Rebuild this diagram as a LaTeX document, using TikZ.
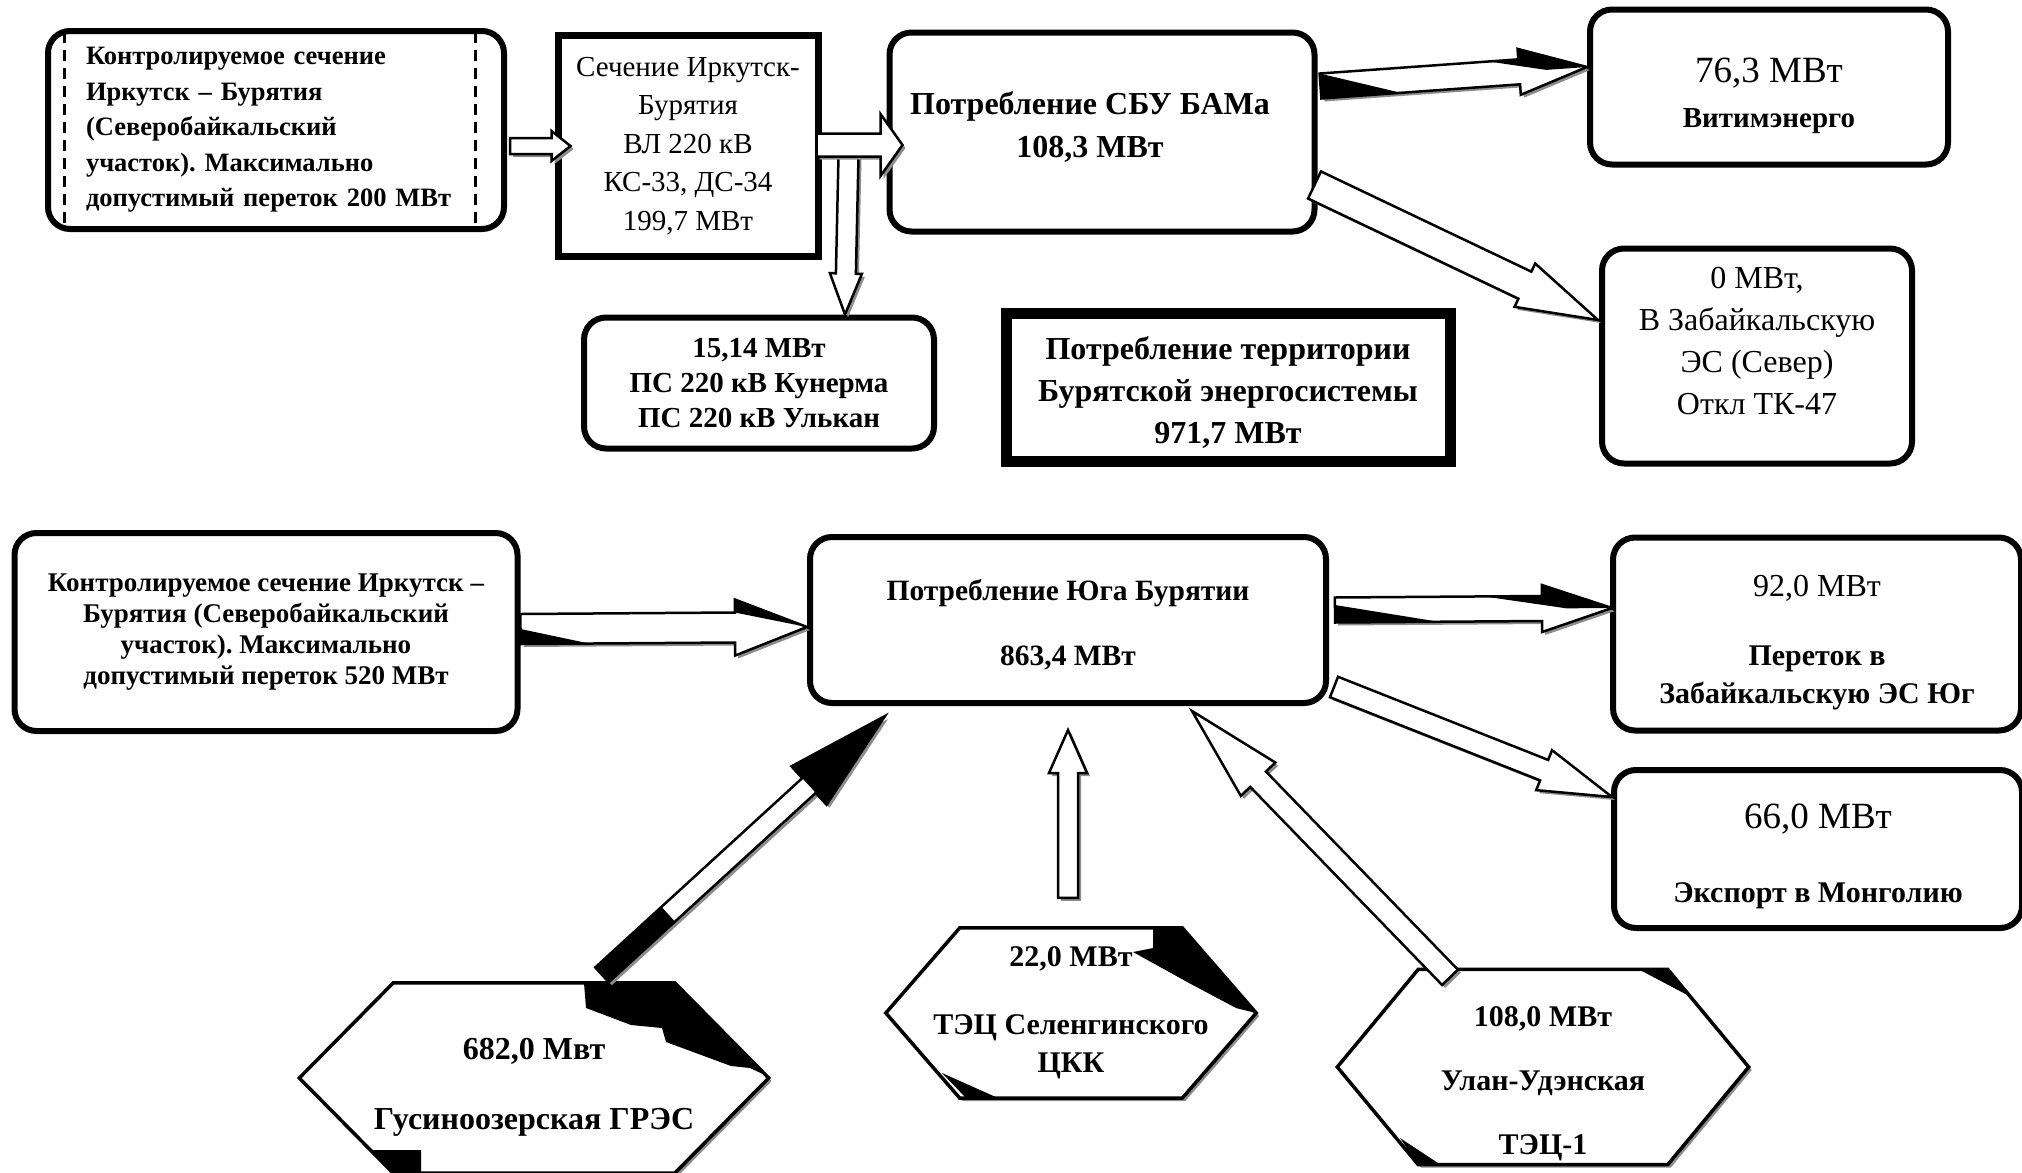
\documentclass[tikz,border=0pt]{standalone}
\usepackage{fontspec}
\setmainfont{Liberation Serif}
\usetikzlibrary{calc,shadows,backgrounds}
\frenchspacing

\newcommand\fnt[2]{\fontsize{#1}{#2}\selectfont}

\tikzset{
  box/.style={draw,line width=6pt,rounded corners=22pt,fill=white,
    align=center,inner sep=0pt},
  sqbox/.style={draw,line width=7pt,fill=white,align=center,inner sep=0pt},
  framebox/.style={draw,line width=8pt,fill=white,align=center,inner sep=0pt},
  frameinner/.style={draw,line width=3pt},
  dashline/.style={draw,line width=3pt,dash pattern=on 11pt off 7pt},
  hexnode/.style={align=center,inner sep=0pt},
  txt/.style={align=center,inner sep=0pt},
  hexline/.style={draw,line width=3.5pt,fill=white,line join=miter,
    drop shadow={shadow xshift=3pt,shadow yshift=-3pt,fill=black!45,opacity=1}},
  flow/.style={draw,line width=2.5pt,fill=white,line join=miter,
    drop shadow={shadow xshift=3pt,shadow yshift=-3pt,fill=black!45,opacity=1}},
  blot/.style={fill=black},
}

% block arrow: tail, tip, half shaft, half head, head length
\newcommand\flowarrow[6][]{%
  \coordinate (fa-b) at ($(#3)!#6pt!(#2)$);
  \coordinate (fa-t1) at ($(#2)!#4pt!90:(#3)$);
  \coordinate (fa-t2) at ($(#2)!#4pt!-90:(#3)$);
  \coordinate (fa-s1) at ($(fa-b)!#4pt!90:(#3)$);
  \coordinate (fa-s2) at ($(fa-b)!#4pt!-90:(#3)$);
  \coordinate (fa-h1) at ($(fa-b)!#5pt!90:(#3)$);
  \coordinate (fa-h2) at ($(fa-b)!#5pt!-90:(#3)$);
  \path[flow,#1] (fa-t1) -- (fa-s1) -- (fa-h1) -- (#3) -- (fa-h2) -- (fa-s2)
    -- (fa-t2) -- cycle;
}

% hexagon round a node: node name, horizontal cut
\newcommand\hexframe[2]{%
  \path[hexline] (#1.west) -- ($(#1.north west)+(#2,0)$)
    -- ($(#1.north east)+(-#2,0)$) -- (#1.east)
    -- ($(#1.south east)+(-#2,0)$) -- ($(#1.south west)+(#2,0)$) -- cycle;
}

\begin{document}
\begin{tikzpicture}[x=1pt,y=-1pt]
  \useasboundingbox (0,0) rectangle (2022,1173);

  % upper part: north (BAM)
  \node[box,minimum width=456pt,minimum height=198pt,text width=380pt,
    inner xsep=38pt,align=left,font={\fnt{26.5}{35.5}\bfseries}]
    (ctlnorth) at (276,130) {Контролируемое сечение\\ Иркутск – Бурятия\\
    (Северобайкальский\\ участок). Максимально\\ допустимый переток 200 МВт};
  \draw[dashline] ($(ctlnorth.north west)+(19,4)$)
    rectangle ($(ctlnorth.south east)+(-32,-4)$);
  \node[sqbox,minimum width=260pt,minimum height=221pt,font={\fnt{29}{38.5}}]
    (secirk) at (688,146) {Сечение Иркутск-\\ Бурятия\\ ВЛ 220 кВ\\
    КС-33, ДС-34\\ 199,7 МВт};
  \node[box,minimum width=425pt,minimum height=199pt] (sbu) at (1102,132) {};
  \node[txt,font={\fnt{32}{43}\bfseries},xshift=-12pt,yshift=5pt]
    (sbu-txt) at (sbu) {Потребление СБУ БАМа\\ 108,3 МВт};
  \node[box,minimum width=358pt,minimum height=155pt] (vitim) at (1769,87) {};
  \node[txt,font={\fnt{29}{45}},yshift=-9pt]
    (vitim-txt) at (vitim) {{\fnt{37}{45}76,3 МВт}\\ \textbf{Витимэнерго}};
  \node[box,minimum width=310pt,minimum height=215pt] (zabnorth) at (1757,356) {};
  \node[txt,font={\fnt{32}{42}},yshift=15pt]
    (zabnorth-txt) at (zabnorth) {0 МВт,\\ В Забайкальскую\\ ЭС (Север)\\
    Откл ТК-47};
  \node[box,minimum width=350pt,minimum height=131pt,font={\fnt{29}{35}\bfseries}]
    (kunerma) at (759,383) {15,14 МВт\\ ПС 220 кВ Кунерма\\ ПС 220 кВ Улькан};
  \node[framebox,minimum width=447pt,minimum height=151pt] (total) at (1228,387) {};
  \draw[frameinner] ($(total.north west)+(9.5,9.5)$)
    rectangle ($(total.south east)+(-9.5,-9.5)$);
  \node[txt,font={\fnt{32}{42}\bfseries},yshift=-6pt]
    (total-txt) at (total) {Потребление территории\\ Бурятской энергосистемы\\
    971,7 МВт};

  % lower part: south
  \node[box,minimum width=503pt,minimum height=198pt,font={\fnt{27}{31}\bfseries}]
    (ctlsouth) at (266,632) {Контролируемое сечение Иркутск –\\
    Бурятия (Северобайкальский\\ участок). Максимально\\
    допустимый переток 520 МВт};
  \node[box,minimum width=516pt,minimum height=166pt] (south) at (1068,620) {};
  \node[txt,font={\fnt{29.5}{65}\bfseries},yshift=-5pt]
    (south-txt) at (south) {Потребление Юга Бурятии\\ 863,4 МВт};
  \node[box,minimum width=408pt,minimum height=193pt] (zabsouth) at (1817,634) {};
  \node[txt,font={\fnt{30}{38}\bfseries},yshift=-9pt]
    (zabsouth-txt) at (zabsouth) {{\fnt{32}{38}\mdseries 92,0 МВт}\\[31pt]
    Переток в\\ Забайкальскую ЭС Юг};
  \node[box,minimum width=408pt,minimum height=158pt] (mongol) at (1818,849) {};
  \node[txt,font={\fnt{30}{74}\bfseries},yshift=-7pt]
    (mongol-txt) at (mongol) {{\fnt{37}{74}\mdseries 66,0 МВт}\\
    Экспорт в Монголию};
  \node[hexnode,minimum width=469pt,minimum height=190pt] (gres) at (534,1078) {};
  \node[txt,font={\fnt{32}{70}\bfseries},yshift=-9pt]
    (gres-txt) at (gres) {682,0 Мвт\\ Гусиноозерская ГРЭС};
  \node[hexnode,minimum width=370pt,minimum height=170pt,
    font={\fnt{30}{38}\bfseries}]
    (tsck) at (1071,1013) {22,0 МВт\\[30pt] ТЭЦ Селенгинского\\ ЦКК};
  \node[hexnode,minimum width=411pt,minimum height=195pt] (tec1) at (1543,1067) {};
  \node[txt,font={\fnt{30}{64}\bfseries},yshift=-17pt]
    (tec1-txt) at (tec1) {108,0 МВт\\ Улан-Удэнская\\ ТЭЦ-1};

  \begin{scope}[on background layer]
    \hexframe{gres}{94}
    \hexframe{tsck}{74}
    \hexframe{tec1}{81}
    \begin{scope}[shift={(gres.center)}]
      \fill[blot] (50,-95) -- (140,-95) -- (233,-2) -- (216,-10) -- (197,-12)
        -- (132,-36) -- (128,-50) -- (97,-53) -- (52,-70) -- cycle;
      \fill[blot] (-163,72) -- (-113,72) -- (-113,95) -- (-140,95) -- cycle;
    \end{scope}
    \begin{scope}[shift={(tsck.center)}]
      \fill[blot] (82,-85) -- (112,-85) -- (185,0) -- (165,-5) -- (118,-30)
        -- (62,-61) -- (82,-65) -- cycle;
      \fill[blot] (-129,60) -- (-105,85) -- (-73,85) -- cycle;
    \end{scope}
    \begin{scope}[shift={(tec1.center)}]
      \fill[blot] (97,-97) -- (124,-97) -- (150,-69) -- cycle;
      \fill[blot] (-143,71) -- (-125,98) -- (-102,98) -- cycle;
    \end{scope}
  \end{scope}

  % flows, upper part
  \coordinate (a1) at ($(ctlnorth.east)+(3,16)$);
  \coordinate (a2) at ($(secirk.west)+(16,0)$);
  \flowarrow{a1}{a2}{8}{15}{19}
  \coordinate (c1) at ($(secirk.east)+(27,10)$);
  \coordinate (c2) at ($(kunerma.north)+(86,0)$);
  \flowarrow{c1}{c2}{10}{16}{41}
  \coordinate (b1) at ($(secirk.east)+(-5,-1)$);
  \coordinate (b2) at ($(sbu.west)+(16,13)$);
  \flowarrow{b1}{b2}{11.5}{31}{22}
  \coordinate (d1) at ($(sbu.east)+(3,-46)$);
  \coordinate (d2) at ($(vitim.west)+(0,-20)$);
  \flowarrow{d1}{d2}{12.5}{23}{68}
  \fill[blot] (fa-t1) -- ($(fa-t2)!0.4!(fa-s2)$) -- (fa-t2) -- cycle;
  \fill[blot] (fa-h1) -- (d2) -- ($(fa-b)!0.4!(d2)$) -- ($(fa-s1)!0.15!(fa-t1)$)
    -- (fa-s1) -- cycle;
  \coordinate (e1) at ($(sbu.east)+(-3,53)$);
  \coordinate (e2) at ($(zabnorth.west)+(-1,-36)$);
  \flowarrow{e1}{e2}{15}{24}{81}

  % flows, lower part
  \coordinate (f1) at ($(ctlsouth.east)+(0,-3)$);
  \coordinate (f2) at ($(south.west)+(0,7)$);
  \flowarrow{f1}{f2}{15}{28}{72}
  \fill[blot] (fa-h1) -- (f2) -- (fa-s1) -- cycle;
  \fill[blot] ($(fa-t1)!0.5!(fa-t2)$) -- ($(fa-t2)!0.32!(fa-s2)$) -- (fa-t2) -- cycle;
  \coordinate (g1) at ($(south.east)+(6,-10)$);
  \coordinate (g2) at ($(zabsouth.west)+(2,-26)$);
  \flowarrow{g1}{g2}{12.5}{23.5}{70}
  \fill[blot] (fa-h1) -- (g2) -- ($(fa-b)!0.35!(g2)$) -- ($(fa-s1)!0.28!(fa-t1)$)
    -- (fa-s1) -- cycle;
  \fill[blot] ($(fa-t1)!0.3!(fa-t2)$) -- ($(fa-t2)!0.5!(fa-s2)$) -- (fa-t2) -- cycle;
  \coordinate (h1) at ($(south.east)+(5,67)$);
  \coordinate (h2) at ($(mongol.west)+(1,-52)$);
  \flowarrow{h1}{h2}{11}{21.5}{73}
  \coordinate (i1) at ($(gres.north)+(68,-8)$);
  \coordinate (i2) at ($(south.south west)+(78,10)$);
  \flowarrow{i1}{i2}{10}{26}{103}
  \fill[blot] (fa-h1) -- (i2) -- (fa-h2) -- cycle;
  \fill[blot] (fa-t1) -- ($(fa-t1)!0.32!(fa-s1)$) -- ($(fa-t2)!0.32!(fa-s2)$)
    -- (fa-t2) -- cycle;
  \coordinate (j1) at ($(tsck.north)+(-3,-30)$);
  \coordinate (j2) at ($(south.south)+(0,24)$);
  \flowarrow{j1}{j2}{10}{19}{43}
  \coordinate (k1) at ($(tec1.north)+(-93,8)$);
  \coordinate (k2) at ($(south.south)+(124,5)$);
  \flowarrow{k1}{k2}{11}{24}{95}
\end{tikzpicture}
\end{document}
